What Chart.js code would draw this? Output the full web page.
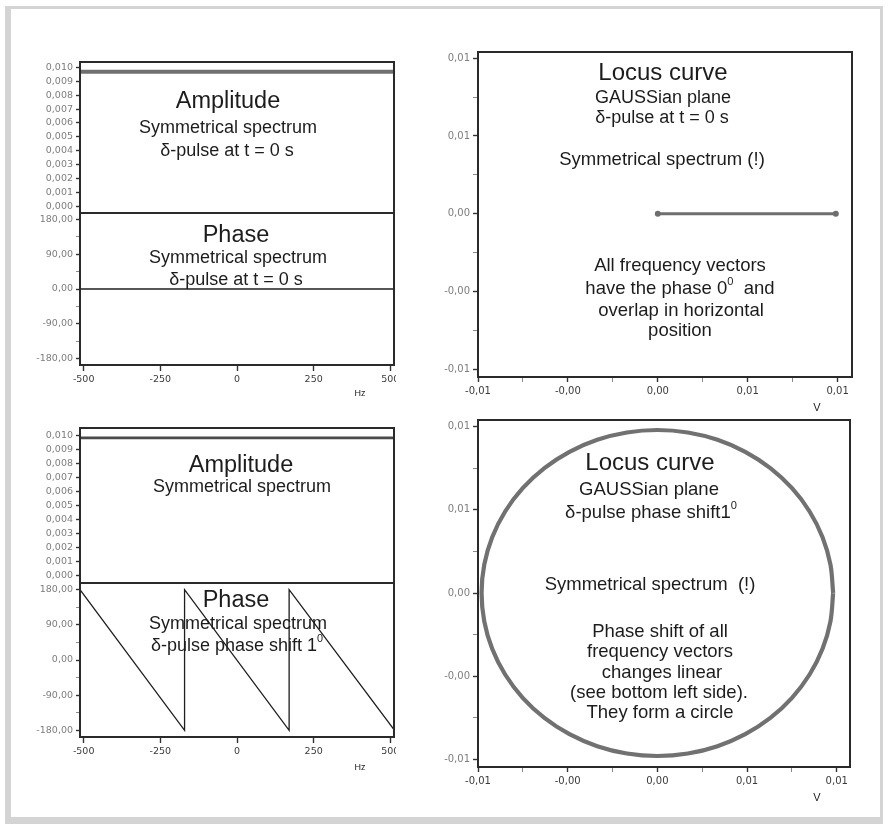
<!DOCTYPE html>
<html>
<head>
<meta charset="utf-8">
<title>Locus curve of a δ-pulse</title>
<script src="https://cdn.jsdelivr.net/npm/chart.js@4.4.1/dist/chart.umd.min.js"></script>
<style>
  html, body { margin: 0; padding: 0; background: #fff; }
  body { width: 888px; height: 834px; position: relative; overflow: hidden; }
  #sheet {
    position: absolute; left: 5px; top: 6px; width: 869px; height: 808px;
    border: 3px solid #d4d4d4; border-left-width: 6px; border-bottom-width: 7px;
  }
  canvas { position: absolute; }
</style>
</head>
<body>
<div id="sheet"></div>

<script>
// ---- data ----
// frequency axis (Hz) of the spectrum plots
const freqMin = -512;
const freqMax = 512;
const freqTicks = [-500, -250, 0, 250, 500];
const freqTickLabels = ['-500', '-250', '0', '250', '500'];

// amplitude axis (V)
const ampTicks = [0, 0.001, 0.002, 0.003, 0.004, 0.005, 0.006, 0.007, 0.008, 0.009, 0.010];
const ampTickLabels = ['0,000', '0,001', '0,002', '0,003', '0,004', '0,005', '0,006', '0,007', '0,008', '0,009', '0,010'];

// phase axis (degrees), unlabelled entries are minor ticks
const phaseTicks = [-180, -135, -90, -45, 0, 45, 90, 135, 180];
const phaseTickLabels = ['-180,00', '', '-90,00', '', '0,00', '', '90,00', '', '180,00'];

// locus axes (V), unlabelled entries are minor ticks
const locusTicks = [-0.01, -0.0075, -0.005, -0.0025, 0, 0.0025, 0.005, 0.0075, 0.01];
const locusTickLabels = ['-0,01', '', '-0,00', '', '0,00', '', '0,01', '', '0,01'];

// top row: delta pulse at t = 0 s
const amp1Hz = [-512, 512];
const amp1V = [0.0097, 0.0097];
const phase1Hz = [-512, 512];
const phase1Deg = [0, 0];
const locus1Re = [0, 0.0099];
const locus1Im = [0, 0];

// bottom row: delta pulse with phase shift
const amp2Hz = [-512, 512];
const amp2V = [0.0098, 0.0098];
const phase2Hz = [-512, -171, -171, 170, 170, 512];
const phase2Deg = [180, -180, 180, -180, 180, -178];
const locus2Amp = 0.0098;
const locus2PhaseDeg = [0, 10, 20, 30, 40, 50, 60, 70, 80, 90, 100, 110, 120, 130, 140, 150, 160, 170,
  180, 190, 200, 210, 220, 230, 240, 250, 260, 270, 280, 290, 300, 310, 320, 330, 340, 350, 360];

// ---- drawing ----
Chart.defaults.font.family = '"DejaVu Sans", sans-serif';
Chart.defaults.animation = false;

const INK = '#1c1c1c';
const TEXT_FONT = '"Liberation Sans", Arial, sans-serif';

const points = (xs, ys) => xs.map((x, i) => ({ x: x, y: ys[i] }));

// closed box round the plot area
const framePlugin = {
  id: 'frame',
  afterDatasetsDraw(chart) {
    const a = chart.chartArea, ctx = chart.ctx;
    ctx.save();
    ctx.strokeStyle = '#2a2a2a';
    ctx.lineWidth = 2;
    ctx.strokeRect(a.left, a.top, a.right - a.left, a.bottom - a.top);
    ctx.restore();
  }
};

// free text inside the panels; '^' switches to superscript and back
function notesPlugin(items, ox, oy) {
  return {
    id: 'notes',
    afterDraw(chart) {
      const ctx = chart.ctx;
      ctx.save();
      ctx.fillStyle = INK;
      ctx.textAlign = 'left';
      ctx.textBaseline = 'alphabetic';
      items.forEach(n => {
        const parts = n.text.split('^');
        const sizeOf = i => (i % 2 ? n.size * 0.6 : n.size);
        let w = 0;
        parts.forEach((p, i) => {
          ctx.font = sizeOf(i) + 'px ' + TEXT_FONT;
          w += ctx.measureText(p).width;
        });
        let x = n.x - ox - w / 2;
        parts.forEach((p, i) => {
          ctx.font = sizeOf(i) + 'px ' + TEXT_FONT;
          ctx.fillText(p, x, n.y - oy - (i % 2 ? n.size * 0.5 : 0));
          x += ctx.measureText(p).width;
        });
      });
      ctx.restore();
    }
  };
}

function axis(values, labels, o) {
  return {
    type: 'linear',
    min: o.min,
    max: o.max,
    afterBuildTicks: s => { s.ticks = values.map(v => ({ value: v })); },
    grid: {
      drawOnChartArea: false,
      drawTicks: true,
      tickLength: o.tick,
      tickColor: c => (labels[c.index] === '' ? '#8a8a8a' : '#333'),
      tickWidth: c => (labels[c.index] === '' ? 1 : 1.4)
    },
    border: { display: false },
    ticks: {
      autoSkip: false,
      maxRotation: 0,
      padding: o.pad,
      color: o.color,
      font: { size: o.font },
      callback: (v, i) => labels[i]
    }
  };
}

// c = canvas [left, top, width, height], a = plot area [left, top, right, bottom]
function panel(c, a, datasets, scales, notes, xShown) {
  const cv = document.createElement('canvas');
  cv.width = c[2];
  cv.height = c[3];
  cv.style.left = c[0] + 'px';
  cv.style.top = c[1] + 'px';
  document.body.appendChild(cv);

  scales.y.afterFit = s => { s.width = a[0] - c[0]; s.paddingTop = 0; s.paddingBottom = 0; };
  if (xShown) {
    scales.x.afterFit = s => { s.height = c[1] + c[3] - a[3]; s.paddingLeft = 0; s.paddingRight = 0; };
  }

  return new Chart(cv, {
    type: 'scatter',
    data: { datasets: datasets },
    options: {
      responsive: false,
      layout: {
        padding: {
          left: 0,
          top: a[1] - c[1],
          right: c[0] + c[2] - a[2],
          bottom: xShown ? 0 : c[1] + c[3] - a[3]
        }
      },
      scales: scales,
      plugins: { legend: { display: false }, tooltip: { enabled: false } }
    },
    plugins: [framePlugin, notesPlugin(notes, c[0], c[1])]
  });
}

const line = (data, color, width, extra) => Object.assign({
  data: data, showLine: true, borderColor: color, backgroundColor: color,
  borderWidth: width, pointRadius: 0, tension: 0
}, extra || {});

const yLabelColor = '#7d7d7d';
const xLabelColor = '#3a3a3a';
const hiddenFreq = { type: 'linear', display: false, min: freqMin, max: freqMax };

// amplitude, top
panel([20, 50, 376, 164], [80, 62, 394, 213],
  [line(points(amp1Hz, amp1V), '#707070', 4)],
  {
    x: hiddenFreq,
    y: axis(ampTicks, ampTickLabels, { min: -0.0005, max: 0.0104, tick: 4, pad: 3, font: 9.5, color: yLabelColor })
  },
  [
    { x: 228, y: 108, text: 'Amplitude', size: 23.5 },
    { x: 228, y: 133, text: 'Symmetrical spectrum', size: 18 },
    { x: 227, y: 156, text: 'δ-pulse at t = 0 s', size: 18 }
  ], false);

// phase, top
panel([20, 211, 376, 191], [80, 213, 394, 365],
  [line(points(phase1Hz, phase1Deg), '#1e1e1e', 1.3)],
  {
    x: axis(freqTicks, freqTickLabels, { min: freqMin, max: freqMax, tick: 6, pad: 3, font: 9.5, color: xLabelColor }),
    y: axis(phaseTicks, phaseTickLabels, { min: -196, max: 196, tick: 4, pad: 3, font: 9.5, color: yLabelColor })
  },
  [
    { x: 236, y: 242, text: 'Phase', size: 23.5 },
    { x: 238, y: 263, text: 'Symmetrical spectrum', size: 18 },
    { x: 236, y: 285, text: 'δ-pulse at t = 0 s', size: 18 },
    { x: 360, y: 396, text: 'Hz', size: 9 }
  ], true);

// locus curve, top
panel([420, 44, 445, 371], [478, 52, 852, 377],
  [line(points(locus1Re, locus1Im), '#6e6e6e', 3, { pointRadius: 1.5 })],
  {
    x: axis(locusTicks, locusTickLabels, { min: -0.01, max: 0.0108, tick: 5, pad: 3, font: 10, color: xLabelColor }),
    y: axis(locusTicks, locusTickLabels, { min: -0.0105, max: 0.0104, tick: 5, pad: 3, font: 10, color: yLabelColor })
  },
  [
    { x: 663, y: 80, text: 'Locus curve', size: 24 },
    { x: 663, y: 103, text: 'GAUSSian plane', size: 18 },
    { x: 662, y: 123, text: 'δ-pulse at t = 0 s', size: 18 },
    { x: 662, y: 165, text: 'Symmetrical spectrum (!)', size: 18.5 },
    { x: 680, y: 271, text: 'All frequency vectors', size: 18.5 },
    { x: 680, y: 294, text: 'have the phase 0^0^  and', size: 18.5 },
    { x: 681, y: 316, text: 'overlap in horizontal', size: 18.5 },
    { x: 680, y: 336, text: 'position', size: 18.5 },
    { x: 817, y: 411, text: 'V', size: 11 }
  ], true);

// amplitude, bottom
panel([20, 420, 376, 164], [80, 428, 394, 583],
  [line(points(amp2Hz, amp2V), '#4a4a4a', 2.6)],
  {
    x: hiddenFreq,
    y: axis(ampTicks, ampTickLabels, { min: -0.0005, max: 0.0105, tick: 4, pad: 3, font: 9.5, color: yLabelColor })
  },
  [
    { x: 241, y: 472, text: 'Amplitude', size: 23.5 },
    { x: 242, y: 492, text: 'Symmetrical spectrum', size: 18 }
  ], false);

// phase, bottom (sawtooth)
panel([20, 581, 376, 193], [80, 583, 394, 737],
  [line(points(phase2Hz, phase2Deg), '#1e1e1e', 1.3)],
  {
    x: axis(freqTicks, freqTickLabels, { min: freqMin, max: freqMax, tick: 6, pad: 3, font: 9.5, color: xLabelColor }),
    y: axis(phaseTicks, phaseTickLabels, { min: -197, max: 197, tick: 4, pad: 3, font: 9.5, color: yLabelColor })
  },
  [
    { x: 236, y: 607, text: 'Phase', size: 23.5 },
    { x: 238, y: 629, text: 'Symmetrical spectrum', size: 18 },
    { x: 237, y: 651, text: 'δ-pulse phase shift 1^0', size: 18 },
    { x: 360, y: 770, text: 'Hz', size: 9 }
  ], true);

// locus curve, bottom: every frequency vector of amplitude locus2Amp at its phase
const locus2 = locus2PhaseDeg.map(p => ({
  x: locus2Amp * Math.cos(p * Math.PI / 180),
  y: locus2Amp * Math.sin(p * Math.PI / 180)
}));
panel([420, 412, 445, 397], [478, 420, 850, 767],
  [line(locus2, '#717171', 4.2, { tension: 0.33 })],
  {
    x: axis(locusTicks, locusTickLabels, { min: -0.01, max: 0.01074, tick: 5, pad: 3, font: 10, color: xLabelColor }),
    y: axis(locusTicks, locusTickLabels, { min: -0.01046, max: 0.0104, tick: 5, pad: 3, font: 10, color: yLabelColor })
  },
  [
    { x: 650, y: 470, text: 'Locus curve', size: 24 },
    { x: 649, y: 495, text: 'GAUSSian plane', size: 18.5 },
    { x: 651, y: 518, text: 'δ-pulse phase shift1^0', size: 18.5 },
    { x: 650, y: 590, text: 'Symmetrical spectrum  (!)', size: 18.5 },
    { x: 660, y: 637, text: 'Phase shift of all', size: 18.5 },
    { x: 660, y: 657, text: 'frequency vectors', size: 18.5 },
    { x: 662, y: 678, text: 'changes linear', size: 18.5 },
    { x: 659, y: 698, text: '(see bottom left side).', size: 18.5 },
    { x: 660, y: 718, text: 'They form a circle', size: 18.5 },
    { x: 817, y: 801, text: 'V', size: 11 }
  ], true);
</script>
</body>
</html>
